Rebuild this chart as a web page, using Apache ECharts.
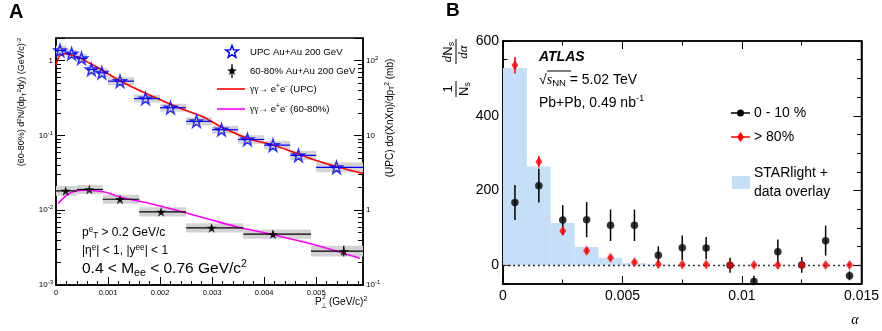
<!DOCTYPE html>
<html>
<head>
<meta charset="utf-8">
<script src="https://cdn.jsdelivr.net/npm/echarts@6.0.0/dist/echarts.min.js"></script>
<style>
html,body{margin:0;padding:0;background:#fff;}
#chart{width:882px;height:331px;}
</style>
</head>
<body>
<div id="chart"></div>
<script>
// ===================== Panel A data =====================
const aXTickVals = [0, 0.001, 0.002, 0.003, 0.004, 0.005];
const aXTickLabels = ['0', '0.001', '0.002', '0.003', '0.004', '0.005'];
const aLeftTickVals = [0.001, 0.01, 0.1, 1];
const aLeftTickLabels = ['10^-3', '10^-2', '10^-1', '1'];
const aRightTickVals = [0.1, 1, 10, 100];
const aRightTickLabels = ['10^-1', '1', '10', '10^2'];

// UPC Au+Au 200 GeV (right axis, mb)
const upcX   = [0.000077, 0.0003, 0.00049, 0.00068, 0.00088, 0.00123, 0.00172, 0.0022, 0.0027, 0.00318, 0.00368, 0.00417, 0.00466, 0.00539];
const upcLo  = [0, 0.0002, 0.0004, 0.0006, 0.0008, 0.001, 0.0015, 0.002, 0.0025, 0.003, 0.0035, 0.004, 0.0045, 0.005];
const upcHi  = [0.0002, 0.0004, 0.0006, 0.0008, 0.001, 0.0015, 0.002, 0.0025, 0.003, 0.0035, 0.004, 0.0045, 0.005, 0.006];
const upcY   = [136, 123, 107, 76, 68.5, 53, 31, 23.4, 15.4, 11.9, 8.8, 7.4, 5.4, 3.73];
const upcSys = [0.16, 0.14, 0.14, 0.14, 0.14, 0.13, 0.13, 0.13, 0.13, 0.13, 0.14, 0.14, 0.15, 0.16];

// 60-80% Au+Au 200 GeV (left axis)
const perX    = [0.000186, 0.00064, 0.00123, 0.00202, 0.00299, 0.00417, 0.00553];
const perLo   = [0, 0.0004, 0.0009, 0.0016, 0.0025, 0.0036, 0.0049];
const perHi   = [0.0004, 0.0009, 0.0016, 0.0025, 0.0036, 0.0049, 0.0064];
const perY    = [0.0181, 0.0189, 0.0140, 0.0095, 0.0058, 0.00479, 0.00284];
const perStat = [0.05, 0.05, 0.06, 0.07, 0.09, 0.10, 0.18];
const perSys  = [0.16, 0.15, 0.15, 0.15, 0.15, 0.15, 0.18];

// gamma gamma -> e+e- curves
const upcCurveX = [0, 0.00005, 0.0001, 0.0002, 0.0003, 0.00045, 0.00065, 0.00085, 0.0012, 0.0017, 0.0021, 0.0025, 0.0028, 0.0032, 0.0037, 0.0042, 0.0047, 0.005, 0.0054, 0.0059];
const upcCurveY = [86, 110, 119, 123, 118, 109, 92, 77, 55, 37, 28, 21.5, 18, 12.7, 9, 7.3, 5.5, 4.6, 3.8, 3.1];
const perCurveX = [0.00004, 0.00027, 0.00053, 0.00091, 0.00123, 0.00202, 0.00299, 0.00347, 0.00417, 0.005, 0.00584];
const perCurveY = [0.0123, 0.0170, 0.0185, 0.0176, 0.0150, 0.0113, 0.0074, 0.0060, 0.0047, 0.0034, 0.00227];

// ===================== Panel B data =====================
const bXTickVals = [0, 0.005, 0.01, 0.015];
const bXTickLabels = ['0', '0.005', '0.01', '0.015'];
const bYTickVals = [0, 200, 400, 600];
const bYTickLabels = ['0', '200', '400', '600'];

const alpha = [0.0005, 0.0015, 0.0025, 0.0035, 0.0045, 0.0055, 0.0065, 0.0075, 0.0085, 0.0095, 0.0105, 0.0115, 0.0125, 0.0135, 0.0145];
const central    = [168, 213, 121, 122, 107, 107, 27, 47, 46, 0, -43, 36, 1, 66, -28];
const centralErr = [47, 45, 40, 47, 42, 42, 24, 33, 30, 20, 15, 33, 21, 40, 12];
const peripheral    = [535, 277, 92, 39, 20, 8, 3, 2, 2, 1, 1, 1, 1, 1, 1];
const peripheralErr = [22, 15, 10, 8, 7, 6, 4, 4, 4, 4, 4, 4, 4, 4, 4];

const starLo  = [0, 0.001, 0.002, 0.003, 0.004, 0.005, 0.006];
const starHi  = [0.001, 0.002, 0.003, 0.004, 0.005, 0.006, 0.007];
const starVal = [528, 264, 113, 49, 20, 6, 2];

// ===================== helpers =====================
const FONT = '"Liberation Sans", Arial, Helvetica, sans-serif';
const SERIF = '"Liberation Serif", "Times New Roman", serif';
const STAR = 'path://M50,0 L61.2,34.5 L97.6,34.5 L68.2,55.9 L79.4,90.5 L50,69.1 L20.6,90.5 L31.8,55.9 L2.4,34.5 L38.8,34.5 Z';

function supLabel(str) {
  const p = str.split('^');
  return p.length === 2 ? '{b|' + p[0] + '}{s|' + p[1] + '}' : '{b|' + str + '}';
}
function lookup(vals, labels, v, log) {
  for (let i = 0; i < vals.length; i++) {
    const d = log ? Math.abs(Math.log10(v) - Math.log10(vals[i])) : Math.abs(v - vals[i]);
    if (d < (log ? 1e-6 : 1e-9)) return labels[i];
  }
  return '';
}
const tickRich = {
  b: {fontSize: 8, fontFamily: FONT, color: '#000'},
  s: {fontSize: 6, fontFamily: FONT, color: '#000', padding: [0, 0, 5, 0]}
};
const logMinor = [];
[0.001, 0.01, 0.1, 1].forEach(d => { for (let k = 2; k <= 9; k++) { const v = +(d * k).toPrecision(3); if (v < 2) logMinor.push(v); } });

const axLine = {show: true, onZero: false, lineStyle: {color: '#000', width: 1.5}};
const noLine = {show: false, onZero: false};
function tick(len, custom) {
  const t = {show: true, inside: true, length: len, lineStyle: {color: '#000', width: 1}};
  if (custom) t.customValues = custom;
  return t;
}
function rich(size) {
  return {
    s: {fontSize: size * 0.68, fontFamily: FONT, padding: [0, 0, size * 0.6, 0]},
    u: {fontSize: size * 0.68, fontFamily: FONT, padding: [size * 0.5, 0, 0, 0]},
    i: {fontSize: size, fontFamily: SERIF, fontStyle: 'italic'},
    g: {fontSize: size, fontFamily: SERIF},
    bi: {fontSize: size, fontFamily: FONT, fontStyle: 'italic', fontWeight: 'bold'}
  };
}
function txt(x, y, text, size, opts) {
  opts = opts || {};
  return {type: 'text', x: x, y: y, rotation: opts.rot || 0, z: 100, silent: true,
    style: {text: text, fill: '#000', fontSize: size, fontFamily: opts.family || FONT,
      fontWeight: opts.weight || 'normal', fontStyle: opts.fstyle || 'normal',
      align: opts.align || 'left', verticalAlign: 'middle', rich: rich(size)}};
}
function starPts(cx, cy, R) {
  const pts = [], r = R * 0.42;
  for (let i = 0; i < 10; i++) {
    const a = -Math.PI / 2 + i * Math.PI / 5, rr = i % 2 ? r : R;
    pts.push([cx + rr * Math.cos(a), cy + rr * Math.sin(a)]);
  }
  return pts;
}
function clipRect(params, r) {
  const cs = params.coordSys;
  return echarts.graphic.clipRectByRect(r, {x: cs.x, y: cs.y, width: cs.width, height: cs.height});
}
function boxRender(params, api) {
  const lo = api.value(0), hi = api.value(1), y = api.value(2), s = api.value(3);
  const a = api.coord([lo, y * (1 + s)]), b = api.coord([hi, y / (1 + s)]);
  const r = clipRect(params, {x: a[0], y: a[1], width: b[0] - a[0], height: b[1] - a[1]});
  return r ? {type: 'rect', shape: r, style: {fill: '#d3d3d3'}} : null;
}
function errRender(color, w) {
  return function (params, api) {
    const cs = params.coordSys;
    const lo = api.value(0), hi = api.value(1), y = api.value(2), st = api.value(3), xc = api.value(4);
    const pL = api.coord([lo, y]), pR = api.coord([hi, y]);
    const x1 = Math.max(pL[0], cs.x), x2 = Math.min(pR[0], cs.x + cs.width);
    const ch = [{type: 'line', shape: {x1: x1, y1: pL[1], x2: x2, y2: pL[1]}, style: {stroke: color, lineWidth: w}}];
    if (st > 0) {
      const pT = api.coord([xc, y * (1 + st)]), pB = api.coord([xc, y / (1 + st)]);
      ch.push({type: 'line', shape: {x1: pT[0], y1: pT[1], x2: pB[0], y2: pB[1]}, style: {stroke: color, lineWidth: w}});
    }
    return {type: 'group', children: ch};
  };
}
function vErrRender(color, w) {
  return function (params, api) {
    const cs = params.coordSys;
    const x = api.value(0), y = api.value(1), e = api.value(2);
    const pT = api.coord([x, y + e]), pB = api.coord([x, y - e]);
    const y1 = Math.max(pT[1], cs.y), y2 = Math.min(pB[1], cs.y + cs.height);
    if (y2 <= y1) return null;
    return {type: 'line', shape: {x1: pT[0], y1: y1, x2: pT[0], y2: y2}, style: {stroke: color, lineWidth: w}};
  };
}
function histRender(params, api) {
  const a = api.coord([api.value(0), api.value(2)]), b = api.coord([api.value(1), 0]);
  return {type: 'rect', shape: {x: a[0], y: a[1], width: b[0] - a[0], height: b[1] - a[1]}, style: {fill: '#c6dff8'}};
}

// ===================== option =====================
const chart = echarts.init(document.getElementById('chart'));
const option = {
  animation: false,
  backgroundColor: '#fff',
  grid: [
    {left: 56, top: 38, width: 307, height: 247, show: true, borderColor: '#000', borderWidth: 1.5, backgroundColor: 'transparent'},
    {left: 503, top: 41, width: 359, height: 243, show: true, borderColor: '#000', borderWidth: 1.5, backgroundColor: 'transparent'}
  ],
  xAxis: [
    {gridIndex: 0, type: 'value', position: 'bottom', min: 0, max: 0.0059, interval: 0.0002,
      axisLine: axLine, axisTick: tick(4), splitLine: {show: false},
      axisLabel: {customValues: aXTickVals, formatter: v => lookup(aXTickVals, aXTickLabels, v, false),
        fontSize: 7.5, fontFamily: FONT, color: '#000', margin: 4}},
    {gridIndex: 0, type: 'value', position: 'bottom', min: 0, max: 0.0059,
      axisLine: noLine, axisTick: tick(8, aXTickVals), axisLabel: {show: false}, splitLine: {show: false}},
    {gridIndex: 1, type: 'value', position: 'bottom', min: 0, max: 0.015, interval: 0.0025,
      axisLine: axLine, axisTick: tick(4.5), splitLine: {show: false},
      axisLabel: {customValues: bXTickVals, formatter: v => lookup(bXTickVals, bXTickLabels, v, false),
        fontSize: 14, fontFamily: FONT, color: '#000', margin: 5}},
    {gridIndex: 1, type: 'value', position: 'bottom', min: 0, max: 0.015,
      axisLine: noLine, axisTick: tick(8, bXTickVals), axisLabel: {show: false}, splitLine: {show: false}},
    {gridIndex: 1, type: 'value', position: 'top', min: 0, max: 0.015, interval: 0.0025,
      axisLine: axLine, axisTick: tick(4.5), axisLabel: {show: false}, splitLine: {show: false}},
    {gridIndex: 1, type: 'value', position: 'top', min: 0, max: 0.015,
      axisLine: noLine, axisTick: tick(8, bXTickVals), axisLabel: {show: false}, splitLine: {show: false}}
  ],
  yAxis: [
    {gridIndex: 0, type: 'log', logBase: 10, position: 'left', min: 0.001, max: 2,
      axisLine: axLine, axisTick: tick(9), splitLine: {show: false},
      axisLabel: {formatter: v => { const l = lookup(aLeftTickVals, aLeftTickLabels, v, true); return l ? supLabel(l) : ''; },
        rich: tickRich, margin: 3, color: '#000'}},
    {gridIndex: 0, type: 'log', logBase: 10, position: 'right', min: 0.1, max: 200,
      axisLine: axLine, axisTick: tick(9), splitLine: {show: false},
      axisLabel: {formatter: v => { const l = lookup(aRightTickVals, aRightTickLabels, v, true); return l ? supLabel(l) : ''; },
        rich: tickRich, margin: 3, color: '#000'}},
    {gridIndex: 0, type: 'log', logBase: 10, position: 'left', min: 0.001, max: 2,
      axisLine: noLine, axisTick: tick(5, logMinor), axisLabel: {show: false}, splitLine: {show: false}},
    {gridIndex: 0, type: 'log', logBase: 10, position: 'right', min: 0.001, max: 2,
      axisLine: noLine, axisTick: tick(5, logMinor), axisLabel: {show: false}, splitLine: {show: false}},
    {gridIndex: 1, type: 'value', position: 'left', min: -50, max: 600, interval: 50,
      axisLine: axLine, axisTick: tick(4.5), splitLine: {show: false},
      axisLabel: {customValues: bYTickVals, formatter: v => lookup(bYTickVals, bYTickLabels, v, false),
        fontSize: 14, fontFamily: FONT, color: '#000', margin: 4}},
    {gridIndex: 1, type: 'value', position: 'left', min: -50, max: 600,
      axisLine: noLine, axisTick: tick(8, bYTickVals), axisLabel: {show: false}, splitLine: {show: false}},
    {gridIndex: 1, type: 'value', position: 'right', min: -50, max: 600, interval: 50,
      axisLine: axLine, axisTick: tick(4.5), axisLabel: {show: false}, splitLine: {show: false}},
    {gridIndex: 1, type: 'value', position: 'right', min: -50, max: 600,
      axisLine: noLine, axisTick: tick(8, bYTickVals), axisLabel: {show: false}, splitLine: {show: false}}
  ],
  series: [
    // ---- Panel A ----
    {type: 'custom', xAxisIndex: 0, yAxisIndex: 1, z: 1, silent: true, renderItem: boxRender,
      encode: {x: [0, 1], y: 2}, data: upcLo.map((lo, i) => [lo, upcHi[i], upcY[i], upcSys[i]])},
    {type: 'custom', xAxisIndex: 0, yAxisIndex: 0, z: 1, silent: true, renderItem: boxRender,
      encode: {x: [0, 1], y: 2}, data: perLo.map((lo, i) => [lo, perHi[i], perY[i], perSys[i]])},
    {type: 'line', xAxisIndex: 0, yAxisIndex: 1, z: 2, showSymbol: false, smooth: 0.35, silent: true,
      lineStyle: {color: '#ff0000', width: 1.6}, data: upcCurveX.map((x, i) => [x, upcCurveY[i]])},
    {type: 'line', xAxisIndex: 0, yAxisIndex: 0, z: 2, showSymbol: false, smooth: 0.35, silent: true,
      lineStyle: {color: '#ff00ff', width: 1.6}, data: perCurveX.map((x, i) => [x, perCurveY[i]])},
    {type: 'custom', xAxisIndex: 0, yAxisIndex: 1, z: 3, silent: true, renderItem: errRender('#0000ff', 1.2),
      encode: {x: [0, 1], y: 2}, data: upcX.map((x, i) => [upcLo[i], upcHi[i], upcY[i], 0, x])},
    {type: 'custom', xAxisIndex: 0, yAxisIndex: 0, z: 3, silent: true, renderItem: errRender('#000', 1.2),
      encode: {x: [0, 1], y: 2}, data: perX.map((x, i) => [perLo[i], perHi[i], perY[i], perStat[i], x])},
    {type: 'scatter', xAxisIndex: 0, yAxisIndex: 1, z: 4, symbol: STAR, symbolSize: 12, silent: true,
      itemStyle: {color: 'rgba(0,0,0,0)', borderColor: '#0000ff', borderWidth: 1.5},
      data: upcX.map((x, i) => [x, upcY[i]])},
    {type: 'scatter', xAxisIndex: 0, yAxisIndex: 0, z: 4, symbol: STAR, symbolSize: 10, silent: true,
      itemStyle: {color: '#000'}, data: perX.map((x, i) => [x, perY[i]])},
    // ---- Panel B ----
    {type: 'custom', xAxisIndex: 2, yAxisIndex: 4, z: 1, silent: true, renderItem: histRender,
      encode: {x: [0, 1], y: 2}, data: starLo.map((lo, i) => [lo, starHi[i], starVal[i]])},
    {type: 'custom', xAxisIndex: 2, yAxisIndex: 4, z: 3, silent: true, renderItem: vErrRender('#000', 1.5),
      encode: {x: 0, y: 1}, data: alpha.map((a, i) => [a, central[i], centralErr[i]])},
    {type: 'custom', xAxisIndex: 2, yAxisIndex: 4, z: 3, silent: true, renderItem: vErrRender('#ff0000', 1.5),
      encode: {x: 0, y: 1}, data: alpha.map((a, i) => [a, peripheral[i], peripheralErr[i]])},
    {type: 'scatter', xAxisIndex: 2, yAxisIndex: 4, z: 4, symbol: 'circle', symbolSize: 7.5, silent: true,
      itemStyle: {color: '#000'}, data: alpha.map((a, i) => [a, central[i]]),
      markLine: {silent: true, symbol: 'none', label: {show: false}, animation: false,
        lineStyle: {color: '#333', type: [2, 3], width: 1.3}, data: [{yAxis: 0}]}},
    {type: 'scatter', xAxisIndex: 2, yAxisIndex: 4, z: 5, symbol: 'diamond', symbolSize: [7, 10], silent: true,
      itemStyle: {color: '#ff0000'}, data: alpha.map((a, i) => [a, peripheral[i]])}
  ],
  graphic: [
    txt(9, 12, 'A', 20, {weight: 'bold'}),
    txt(446, 11, 'B', 19, {weight: 'bold'}),
    // Panel A axis titles
    txt(22, 102, '(60-80%) d{s|2}N/(dp{u|T}{s|2}dy) (GeV/c){s|-2}', 9, {rot: Math.PI / 2, align: 'center'}),
    txt(390, 118, '(UPC) dσ(XnXn)/dp{u|T}{s|2} (mb)', 10, {rot: Math.PI / 2, align: 'center'}),
    txt(315, 302, 'P', 10),
    txt(322, 297, '2', 7),
    txt(321, 306, '⊥', 7),
    txt(329, 302, '(GeV/c){s|2}', 10),
    // Panel A legend
    {type: 'polygon', z: 100, shape: {points: starPts(232, 52, 6.5)}, style: {fill: 'none', stroke: '#0000ff', lineWidth: 1.5}},
    {type: 'line', z: 100, shape: {x1: 232, y1: 64, x2: 232, y2: 78}, style: {stroke: '#000', lineWidth: 1.2}},
    {type: 'polygon', z: 101, shape: {points: starPts(232, 71, 5)}, style: {fill: '#000'}},
    {type: 'line', z: 100, shape: {x1: 217, y1: 89, x2: 245, y2: 89}, style: {stroke: '#ff0000', lineWidth: 1.6}},
    {type: 'line', z: 100, shape: {x1: 217, y1: 109, x2: 245, y2: 109}, style: {stroke: '#ff00ff', lineWidth: 1.6}},
    txt(250, 52, 'UPC Au+Au 200 GeV', 9.6),
    txt(250, 71, '60-80% Au+Au 200 GeV', 9.6),
    txt(250, 89, '{g|γγ}→ e{s|+}e{s|-} (UPC)', 9.6),
    txt(250, 109, '{g|γγ}→ e{s|+}e{s|-} (60-80%)', 9.6),
    // Panel A annotations
    txt(82, 233, 'p{s|e}{u|T} > 0.2 GeV/c', 12),
    txt(82, 251, '|η{s|e}| < 1, |y{s|ee}| < 1', 12),
    txt(82, 269, '0.4 < M{u|ee} < 0.76 GeV/c{s|2}', 15.5),
    // Panel B annotations
    txt(539, 57, 'ATLAS', 14, {weight: 'bold', fstyle: 'italic'}),
    txt(539, 80, '√{i|s}{u|NN} = 5.02 TeV', 14),
    {type: 'line', z: 100, shape: {x1: 547, y1: 71, x2: 571, y2: 71}, style: {stroke: '#000', lineWidth: 1}},
    txt(539, 103, 'Pb+Pb, 0.49 nb{s|-1}', 14),
    // Panel B legend
    {type: 'line', z: 100, shape: {x1: 731, y1: 113, x2: 750, y2: 113}, style: {stroke: '#000', lineWidth: 1.5}},
    {type: 'circle', z: 101, shape: {cx: 740.5, cy: 113, r: 3.5}, style: {fill: '#000'}},
    txt(754, 113, '0 - 10 %', 14),
    {type: 'line', z: 100, shape: {x1: 731, y1: 137, x2: 750, y2: 137}, style: {stroke: '#ff0000', lineWidth: 1.5}},
    {type: 'polygon', z: 101, shape: {points: [[740.5, 132], [744, 137], [740.5, 142], [737, 137]]}, style: {fill: '#ff0000'}},
    txt(754, 137, '> 80%', 14),
    {type: 'rect', z: 100, shape: {x: 732, y: 176, width: 18, height: 13}, style: {fill: '#c6dff8'}},
    txt(754, 173, 'STARlight +', 14),
    txt(754, 192, 'data overlay', 14),
    // Panel B axis titles
    {type: 'group', x: 456, y: 71, rotation: Math.PI / 2, z: 100, children: [
      txt(-18, -8, '1', 13, {align: 'center'}),
      {type: 'line', shape: {x1: -26, y1: 0, x2: -10, y2: 0}, style: {stroke: '#000', lineWidth: 1}},
      txt(-18, 8, 'N{u|s}', 13, {align: 'center'}),
      txt(19, -8, '{i|d}N{u|s}', 13, {align: 'center'}),
      {type: 'line', shape: {x1: 7, y1: 0, x2: 32, y2: 0}, style: {stroke: '#000', lineWidth: 1}},
      txt(19, 8, '{i|dα}', 13, {align: 'center'})
    ]},
    txt(855, 320, 'α', 14, {family: SERIF, fstyle: 'italic', align: 'center'})
  ]
};
chart.setOption(option);
</script>
</body>
</html>
